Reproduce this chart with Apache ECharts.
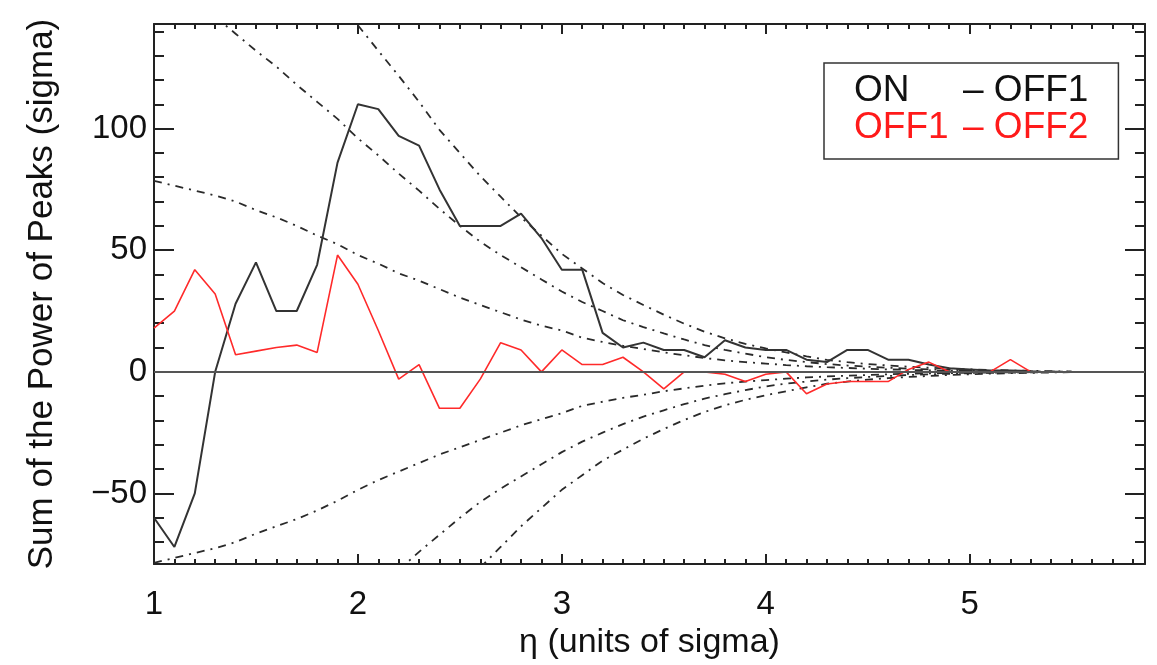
<!DOCTYPE html>
<html>
<head>
<meta charset="utf-8">
<script src="https://cdn.jsdelivr.net/npm/echarts@6/dist/echarts.min.js"></script>
<style>
html,body{margin:0;padding:0;background:#fff;}
#chart{width:1157px;height:665px;}
</style>
</head>
<body>
<div id="chart"></div>
<script>
// ---- data ----
const eta = [1.0,1.1,1.2,1.3,1.4,1.5,1.6,1.7,1.8,1.9,
             2.0,2.1,2.2,2.3,2.4,2.5,2.6,2.7,2.8,2.9,
             3.0,3.1,3.2,3.3,3.4,3.5,3.6,3.7,3.8,3.9,
             4.0,4.1,4.2,4.3,4.4,4.5,4.6,4.7,4.8,4.9,
             5.0,5.1,5.2,5.3,5.4,5.5];

const onMinusOff1 = [-60,-72,-50,0,28,45,25,25,44,86,
                     110,108,97,93,75,60,60,60,65,55,
                     42,42,16,10,12,9,9,6,13,10,
                     9,9,5,4,9,9,5,5,3,1.5,
                     1,0.5,0.5,0.3,null,null];

const off1MinusOff2 = [18,25,42,32,7,8.5,10,11,8,48,
                       36,17,-3,3,-15,-15,-3,12,9,0,
                       9,3,3,6,0,-7,0,0,-1,-4,
                       -1,0,-9,-5,-4,-4,-4,1,4,0,
                       0,0,5,0,null,null];

const levelAUpper = [78.5,76.5,74.5,72.5,70,66.5,63.5,60,56,52.5,
                     48,44.5,40.5,37.5,34,30.5,27.5,24.5,21.5,19,
                     17,14,12.3,10.7,9.4,8,6.8,5.7,4.7,4,
                     3.4,2.8,2.3,1.9,1.6,1.3,1.0,0.8,0.6,0.5,
                     0.4,0.3,0.2,0.15,0.1,0.05];
const levelALower = [-78.5,-76.5,-74.5,-72.5,-70,-66.5,-63.5,-60.5,-57,-53,
                     -48.5,-44.5,-41,-37.5,-34,-31,-28,-25,-22,-19.5,
                     -17,-14,-12.3,-10.7,-9.4,-8,-6.8,-5.7,-4.7,-4,
                     -3.4,-2.8,-2.3,-1.9,-1.6,-1.3,-1.0,-0.8,-0.6,-0.5,
                     -0.4,-0.3,-0.2,-0.15,-0.1,-0.05];

const levelBUpper = [null,null,null,146,139,132,125.5,118,111,104,
                     96,89,81.5,74.5,67,60,53.5,48,43,38,
                     33,28.7,25,21.2,18.4,15.8,13.3,11,9,7.5,
                     6,4.9,4,3.2,2.6,2.1,1.7,1.3,1.0,0.8,
                     0.6,0.4,0.3,0.2,0.1,0.05];
const levelBLower = [null,null,null,null,null,null,null,null,null,null,
                     null,null,-81.5,-74,-67,-60,-53.5,-48,-43,-38,
                     -33,-28.7,-25,-21.5,-18.4,-15.8,-13.3,-11,-9.2,-7.5,
                     -6,-4.8,-4,-3.2,-2.6,-2.1,-1.7,-1.3,-1.0,-0.8,
                     -0.6,-0.4,-0.3,-0.2,-0.1,-0.05];

const levelCUpper = [null,null,null,null,null,null,null,null,null,null,
                     142.5,132,121.7,111,99.5,90,80.5,72,63.5,56,
                     48.5,42.5,36.5,31.6,27.5,23.5,19.8,16.5,13.8,11.5,
                     9.6,8,6.4,4.9,4,3.2,2.6,2.1,1.7,1.3,
                     1.0,0.75,0.55,0.4,0.25,0.1];
const levelCLower = [null,null,null,null,null,null,null,null,null,null,
                     null,null,null,null,null,null,-80.5,-72,-63.5,-56,
                     -48.5,-42.5,-36.5,-32,-27.5,-23.5,-19.8,-16.5,-13.8,-11.5,
                     -9.6,-8,-6.4,-4.9,-4,-3.2,-2.6,-2.1,-1.7,-1.3,
                     -1.0,-0.75,-0.55,-0.4,-0.25,-0.1];

// ---- axis ticks ----
const xMajorTicks = [1,2,3,4,5];
const yMajorTicks = [-50,0,50,100];
const xMinorTicks = [];
for (let k = 11; k <= 58; k++) { if (k % 10 !== 0) xMinorTicks.push(k / 10); }
const yMinorTicks = [];
for (let k = -7; k <= 14; k++) { if (k % 5 !== 0) yMinorTicks.push(k * 10); }

const X_MIN = 1, X_MAX = 5.86, Y_MIN = -79, Y_MAX = 143;
const FONT = 'Liberation Sans, Arial, Helvetica, sans-serif';
const AX = '#222';

function pairs(ys) { return eta.map((x, i) => [x, ys[i]]); }

function xAx(pos, ticks, len, main) {
  return {
    type: 'value', min: X_MIN, max: X_MAX, position: pos,
    axisLine: { show: main, onZero: false, lineStyle: { color: AX, width: 2 } },
    axisTick: { show: true, inside: true, length: len, customValues: ticks, lineStyle: { color: AX, width: 2 } },
    axisLabel: (main && pos === 'bottom') ? {
      show: true, customValues: xMajorTicks, fontSize: 33, fontFamily: FONT, color: '#111', margin: 24
    } : { show: false },
    splitLine: { show: false },
    name: (main && pos === 'bottom') ? 'η (units of sigma)' : '',
    nameLocation: 'middle', nameGap: 62,
    nameTextStyle: { fontSize: 34, fontFamily: FONT, color: '#111' }
  };
}
function yAx(pos, ticks, len, main) {
  return {
    type: 'value', min: Y_MIN, max: Y_MAX, position: pos,
    axisLine: { show: main, onZero: false, lineStyle: { color: AX, width: 2 } },
    axisTick: { show: true, inside: true, length: len, customValues: ticks, lineStyle: { color: AX, width: 2 } },
    axisLabel: (main && pos === 'left') ? {
      show: true, customValues: yMajorTicks, fontSize: 33, fontFamily: FONT, color: '#111', margin: 7,
      formatter: v => String(v).replace('-', '\u2212')
    } : { show: false },
    splitLine: { show: false },
    name: (main && pos === 'left') ? 'Sum of the Power of Peaks (sigma)' : '',
    nameLocation: 'middle', nameGap: 94, nameRotate: 90,
    nameTextStyle: { fontSize: 35, fontFamily: FONT, color: '#111' }
  };
}

const dashed = { color: '#2a2a2a', width: 1.8, type: [8, 6, 2, 6] };
function level(name, ys) {
  return {
    name: name, type: 'line', data: pairs(ys), showSymbol: false, symbol: 'none',
    lineStyle: dashed, itemStyle: { color: '#2a2a2a' }, silent: true, connectNulls: false,
    xAxisIndex: 0, yAxisIndex: 0, z: 2
  };
}

const chart = echarts.init(document.getElementById('chart'), null, { renderer: 'canvas' });
chart.setOption({
  animation: false,
  backgroundColor: '#fff',
  grid: { left: 154, top: 24, width: 991, height: 541, containLabel: false },
  xAxis: [
    xAx('bottom', xMajorTicks, 10, true),
    xAx('bottom', xMinorTicks, 5, false),
    xAx('top', xMajorTicks, 10, true),
    xAx('top', xMinorTicks, 5, false)
  ],
  yAxis: [
    yAx('left', yMajorTicks, 20, true),
    yAx('left', yMinorTicks, 10, false),
    yAx('right', yMajorTicks, 20, true),
    yAx('right', yMinorTicks, 10, false)
  ],
  legend: {
    show: true, orient: 'vertical', left: 824, top: 63,
    padding: [9, 30, 13, 25], itemGap: 0, itemWidth: 0, itemHeight: 10,
    icon: 'none', selectedMode: false,
    borderColor: '#333', borderWidth: 1.5, backgroundColor: '#fff',
    data: ['ON \u2013 OFF1', 'OFF1 \u2013 OFF2'],
    formatter: function (name) {
      return name === 'ON \u2013 OFF1' ? '{a|ON}{b|\u2013 OFF1}' : '{c|OFF1}{d|\u2013 OFF2}';
    },
    textStyle: {
      fontSize: 37, fontFamily: FONT, lineHeight: 37,
      rich: {
        a: { width: 109, fontSize: 37, fontFamily: FONT, color: '#111', lineHeight: 37 },
        b: { fontSize: 37, fontFamily: FONT, color: '#111', lineHeight: 37 },
        c: { width: 109, fontSize: 37, fontFamily: FONT, color: '#ff1a1a', lineHeight: 37 },
        d: { fontSize: 37, fontFamily: FONT, color: '#ff1a1a', lineHeight: 37 }
      }
    }
  },
  series: [
    level('level A upper', levelAUpper),
    level('level A lower', levelALower),
    level('level B upper', levelBUpper),
    level('level B lower', levelBLower),
    level('level C upper', levelCUpper),
    level('level C lower', levelCLower),
    {
      name: 'ON \u2013 OFF1', type: 'line', data: pairs(onMinusOff1), symbol: 'none', showSymbol: false,
      lineStyle: { color: '#333', width: 2 }, itemStyle: { color: '#333' },
      xAxisIndex: 0, yAxisIndex: 0, z: 3
    },
    {
      name: 'OFF1 \u2013 OFF2', type: 'line', data: pairs(off1MinusOff2), symbol: 'none', showSymbol: false,
      lineStyle: { color: '#ff2a2a', width: 1.6 }, itemStyle: { color: '#ff2a2a' },
      xAxisIndex: 0, yAxisIndex: 0, z: 4,
      markLine: {
        silent: true, symbol: 'none', label: { show: false },
        lineStyle: { color: '#555', width: 1.8, type: 'solid' },
        data: [{ yAxis: 0 }]
      }
    }
  ]
});
</script>
</body>
</html>
